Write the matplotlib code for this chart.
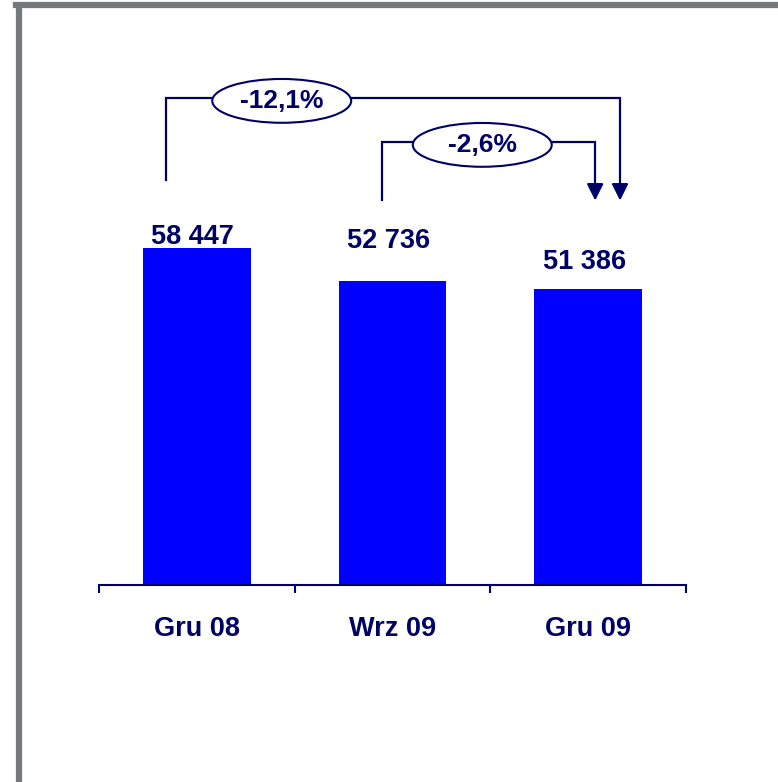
import matplotlib.pyplot as plt
from matplotlib.patches import Ellipse
from matplotlib.lines import Line2D

# dane
kategorie = ['Gru 08', 'Wrz 09', 'Gru 09']
wartosci = [58447, 52736, 51386]
etykiety = ['58 447', '52 736', '51 386']
etykiety_y = [60300, 59700, 56000]
zmiany = ['-12,1%', '-2,6%']

granat = '#000066'
plt.rcParams['font.family'] = ['Liberation Sans', 'DejaVu Sans']

fig = plt.figure(figsize=(7.78, 7.82), dpi=100)
ax = fig.add_axes([0.1272, 0.2519, 0.7545, 0.7005])

x = range(len(kategorie))
ax.bar(x, wartosci, width=0.55, color='#0000FF', zorder=2)
ax.set_xlim(-0.5, 2.5)
ax.set_ylim(0, 95000)

for i, (e, ey) in enumerate(zip(etykiety, etykiety_y)):
    ax.text(i - 0.02, ey, e, ha='center', va='center', fontsize=19.5,
            fontweight='bold', color=granat)

# osie
for s in ['top', 'right', 'left']:
    ax.spines[s].set_visible(False)
ax.spines['bottom'].set_color(granat)
ax.spines['bottom'].set_linewidth(1.5)
ax.set_yticks([])
ax.set_xticks(list(x))
ax.set_xticklabels(kategorie, fontsize=19.5, fontweight='bold', color=granat)
ax.tick_params(axis='x', which='major', length=0, pad=22)
ax.set_xticks([-0.5, 0.5, 1.5, 2.5], minor=True)
ax.tick_params(axis='x', which='minor', length=6, width=1.5, color=granat)

# strzalki ze zmianami
def klamra(x0, y0, x1, yh, ytip, ex, tekst):
    ax.plot([x0, x0, x1, x1], [y0, yh, yh, ytip + 2500], color=granat, lw=1.6,
            zorder=3, solid_joinstyle='miter')
    ax.annotate('', xy=(x1, ytip), xytext=(x1, ytip + 3000),
                arrowprops=dict(arrowstyle='-|>,head_width=0.5,head_length=1.0',
                                color=granat, lw=1.6))
    ax.add_patch(Ellipse((ex, yh - 500), 0.71, 7600, facecolor='white',
                         edgecolor=granat, lw=1.5, zorder=4))
    ax.text(ex, yh - 500, tekst, ha='center', va='center', fontsize=19,
            fontweight='bold', color=granat, zorder=5)

klamra(-0.158, 70200, 2.163, 84460, 66200, 0.434, zmiany[0])
klamra(0.944, 66800, 2.036, 76830, 66200, 1.459, zmiany[1])

# ramka
fig.add_artist(Line2D([16 / 778, 1], [1 - 5 / 782, 1 - 5 / 782],
                      color='#76797c', lw=4.5, transform=fig.transFigure))
fig.add_artist(Line2D([19 / 778, 19 / 778], [0, 1 - 8 / 782],
                      color='#76797c', lw=4.5, transform=fig.transFigure))

fig.savefig('out.png', dpi=100)
